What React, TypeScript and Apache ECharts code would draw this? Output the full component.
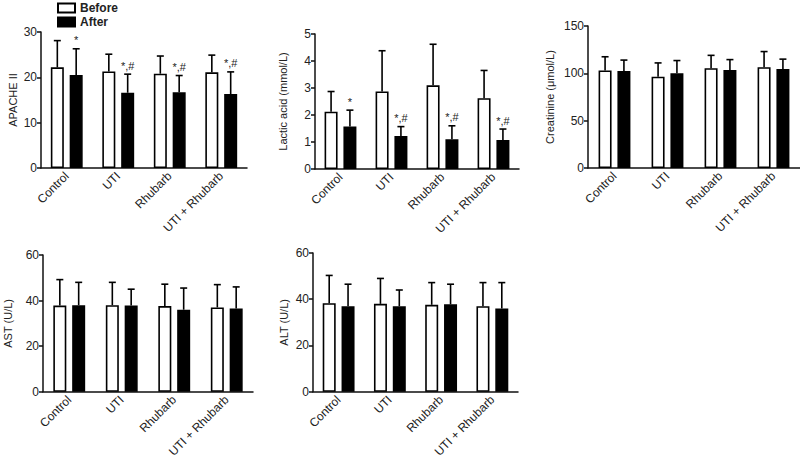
import React, { useEffect, useRef } from "react";
import * as echarts from "echarts";

const categories = ["Control", "UTI", "Rhubarb", "UTI + Rhubarb"];
const legendNames = ["Before", "After"];

const apacheBefore = [22.2, 21.3, 20.8, 21.1];
const apacheBeforeSD = [5.9, 3.8, 3.9, 3.8];
const apacheAfter = [20.5, 16.6, 16.7, 16.3];
const apacheAfterSD = [5.8, 4.1, 3.7, 4.9];
const apacheMarks = ["*", "*,#", "*,#", "*,#"];

const lacticBefore = [2.12, 2.87, 3.1, 2.62];
const lacticBeforeSD = [0.75, 1.51, 1.52, 1.03];
const lacticAfter = [1.57, 1.22, 1.1, 1.07];
const lacticAfterSD = [0.61, 0.35, 0.5, 0.41];
const lacticMarks = ["*", "*,#", "*,#", "*,#"];

const creatBefore = [103, 96.5, 105.5, 106.5];
const creatBeforeSD = [14.5, 14.5, 13.5, 16.5];
const creatAfter = [102.5, 100, 103.5, 104.5];
const creatAfterSD = [11.5, 13.5, 11, 10.5];

const astBefore = [37.8, 38, 37.6, 37];
const astBeforeSD = [11.4, 10, 9.6, 10];
const astAfter = [38, 37.8, 36, 36.5];
const astAfterSD = [10, 7.2, 9.5, 9.5];

const altBefore = [38.3, 38, 37.6, 37];
const altBeforeSD = [12, 11, 9.6, 10.2];
const altAfter = [37, 37, 37.8, 36];
const altAfterSD = [9.5, 7, 8.7, 11.2];

const yNames = ["APACHE II", "Lactic acid (mmol/L)", "Creatinine (μmol/L)", "AST (U/L)", "ALT (U/L)"];
const yMax = [30, 5, 150, 60, 60];
const yInterval = [10, 1, 50, 20, 20];

const FONT = "'Liberation Sans', Arial, Helvetica, sans-serif";
const INK = "#222";
const BAR_W = 13;
const BAR_GAP = 0.45;
const OFFSET = (BAR_W + BAR_W * BAR_GAP) / 2;
const CAP = 3.5;

const panels = [
  { grid: { left: 41, top: 32, width: 206, height: 136 }, nameGap: 23,
    before: apacheBefore, beforeSD: apacheBeforeSD, after: apacheAfter, afterSD: apacheAfterSD, marks: apacheMarks },
  { grid: { left: 315, top: 34, width: 204, height: 135 }, nameGap: 27,
    before: lacticBefore, beforeSD: lacticBeforeSD, after: lacticAfter, afterSD: lacticAfterSD, marks: lacticMarks },
  { grid: { left: 588, top: 26, width: 216, height: 142 }, nameGap: 33,
    before: creatBefore, beforeSD: creatBeforeSD, after: creatAfter, afterSD: creatAfterSD, marks: null },
  { grid: { left: 43, top: 255, width: 210, height: 138 }, nameGap: 30,
    before: astBefore, beforeSD: astBeforeSD, after: astAfter, afterSD: astAfterSD, marks: null },
  { grid: { left: 313, top: 253, width: 205, height: 140 }, nameGap: 24,
    before: altBefore, beforeSD: altBeforeSD, after: altAfter, afterSD: altAfterSD, marks: null },
];

function errorSeries(gi: number, means: number[], sds: number[], marks: string[] | null, side: number) {
  return {
    type: "custom",
    xAxisIndex: gi,
    yAxisIndex: gi,
    silent: true,
    z: 5,
    encode: { x: 0, y: 1 },
    data: means.map((m, i) => [i, m, sds[i]]),
    renderItem: (params: any, api: any) => {
      const ci = api.value(0);
      const m = api.value(1);
      const sd = api.value(2);
      const base = api.coord([ci, m]);
      const top = api.coord([ci, m + sd]);
      const x = base[0] + side * OFFSET;
      const children: any[] = [
        { type: "line", shape: { x1: x, y1: base[1], x2: x, y2: top[1] }, style: { stroke: "#000", lineWidth: 1.6 } },
        { type: "line", shape: { x1: x - CAP, y1: top[1], x2: x + CAP, y2: top[1] }, style: { stroke: "#000", lineWidth: 1.6 } },
      ];
      const mark = marks ? marks[ci] : "";
      if (mark) {
        children.push({
          type: "text",
          x,
          y: top[1] - 3,
          style: { text: mark, align: "center", verticalAlign: "bottom", fontSize: 11, fontFamily: FONT, fill: INK },
        });
      }
      return { type: "group", children };
    },
  };
}

export default function App() {
  const ref = useRef<HTMLDivElement>(null);
  useEffect(() => {
    if (!ref.current) return;
    const chart = echarts.init(ref.current, null, { renderer: "svg" });
    const series: any[] = [];
    panels.forEach((p, gi) => {
      series.push({
        name: legendNames[0], type: "bar", xAxisIndex: gi, yAxisIndex: gi,
        barWidth: BAR_W, barGap: `${BAR_GAP * 100}%`, data: p.before,
        itemStyle: { color: "#fff", borderColor: "#000", borderWidth: 1.6 },
      });
      series.push({
        name: legendNames[1], type: "bar", xAxisIndex: gi, yAxisIndex: gi,
        barWidth: BAR_W, barGap: `${BAR_GAP * 100}%`, data: p.after,
        itemStyle: { color: "#000", borderColor: "#000", borderWidth: 1.6 },
      });
      series.push(errorSeries(gi, p.before, p.beforeSD, null, -1));
      series.push(errorSeries(gi, p.after, p.afterSD, p.marks, 1));
    });
    chart.setOption({
      animation: false,
      backgroundColor: "#fff",
      textStyle: { fontFamily: FONT },
      legend: {
        data: legendNames,
        orient: "vertical",
        left: 52,
        top: -3,
        icon: "rect",
        itemWidth: 17,
        itemHeight: 9,
        itemGap: 2,
        textStyle: { fontSize: 12, fontWeight: "bold", color: INK, fontFamily: FONT },
      },
      grid: panels.map((p) => ({ ...p.grid, containLabel: false })),
      xAxis: panels.map((p, gi) => ({
        type: "category",
        gridIndex: gi,
        data: categories,
        axisLine: { lineStyle: { color: "#111", width: 1.5 } },
        axisTick: { alignWithLabel: true, length: 4, lineStyle: { color: "#111", width: 1.5 } },
        axisLabel: { rotate: 45, fontSize: 12, margin: 6, interval: 0, color: INK, fontFamily: FONT },
      })),
      yAxis: panels.map((p, gi) => ({
        type: "value",
        gridIndex: gi,
        min: 0,
        max: yMax[gi],
        interval: yInterval[gi],
        name: yNames[gi],
        nameLocation: "middle",
        nameRotate: 90,
        nameGap: p.nameGap,
        nameTextStyle: { fontSize: 11, color: INK, fontFamily: FONT },
        axisLine: { show: true, lineStyle: { color: "#111", width: 1.5 } },
        axisTick: { show: true, length: 4, lineStyle: { color: "#111", width: 1.5 } },
        axisLabel: { fontSize: 12, margin: 4, color: INK, fontFamily: FONT },
        splitLine: { show: false },
      })),
      series,
    });
    return () => chart.dispose();
  }, []);
  return (
    <div
      ref={ref}
      style={{ position: "absolute", left: 0, top: 0, width: 800, height: 460, background: "#fff" }}
    />
  );
}
